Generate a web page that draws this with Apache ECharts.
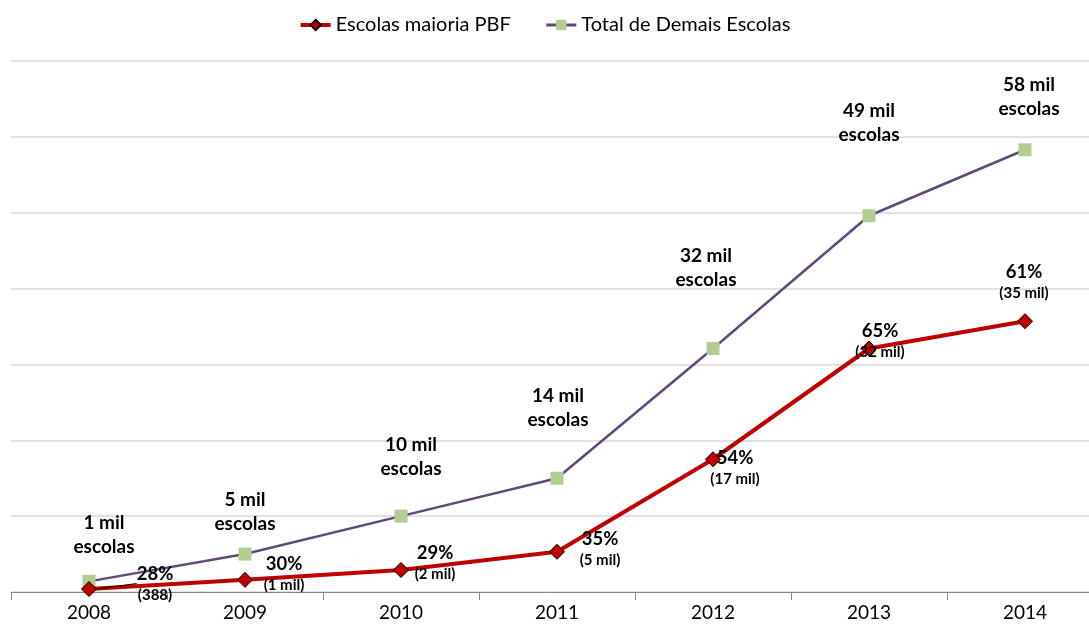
<!DOCTYPE html>
<html>
<head>
<meta charset="utf-8">
<script src="https://cdn.jsdelivr.net/npm/echarts@6/dist/echarts.min.js"></script>
<style>html,body{margin:0;padding:0;background:#fff}#c{width:1089px;height:626px}</style>
</head>
<body>
<div id="c"></div>
<script>
// ---- data (thousands of schools) ----
const years = ['2008', '2009', '2010', '2011', '2012', '2013', '2014'];
const pbfValues = [0.39, 1.6, 2.9, 5.3, 17.5, 32.1, 35.7];
const totalValues = [1.4, 5.0, 10.0, 15.0, 32.1, 49.6, 58.3];
const totalLabels = ['1 mil', '5 mil', '10 mil', '14 mil', '32 mil', '49 mil', '58 mil'];
const pbfPct = ['28%', '30%', '29%', '35%', '54%', '65%', '61%'];
const pbfCount = ['(388)', '(1 mil)', '(2 mil)', '(5 mil)', '(17 mil)', '(32 mil)', '(35 mil)'];

// ---- label layout (style, not data) ----
const totalLabelOffsets = [[15, -47], [0, -42], [10, -59], [1, -70], [-7, -81], [0, -93], [4, -53]];
const pbfLabelOffsets = [[66, -5], [39, -6], [34, -7], [43, -3], [22, 9], [11, -7], [-1, -39]];

const FONT = 'Lato';

const chart = echarts.init(document.getElementById('c'), null, { renderer: 'canvas' });

const pbfData = pbfValues.map((v, i) => {
  const item = {
    value: v,
    label: {
      offset: pbfLabelOffsets[i],
      formatter: '{a|' + pbfPct[i] + '}\n{b|' + pbfCount[i] + '}'
    }
  };
  if (i === 0) {
    item.labelLine = { show: true, lineStyle: { color: '#000', width: 1 } };
  }
  return item;
});

const totalData = totalValues.map((v, i) => ({
  value: v,
  label: {
    offset: totalLabelOffsets[i],
    formatter: totalLabels[i] + '\nescolas'
  }
}));

chart.setOption({
  animation: false,
  textStyle: { fontFamily: FONT },
  legend: {
    top: 10,
    left: 'center',
    itemWidth: 30,
    itemHeight: 13,
    itemGap: 34,
    textStyle: { fontFamily: FONT, fontSize: 20, color: '#000' },
    data: [
      { name: 'Escolas maioria PBF', lineStyle: { width: 4 } },
      { name: 'Total de Demais Escolas', lineStyle: { width: 3 } }
    ]
  },
  grid: { left: 11, width: 1092, top: 61, height: 531, containLabel: false, outerBoundsMode: 'none' },
  xAxis: {
    type: 'category',
    data: years,
    boundaryGap: true,
    axisLine: { lineStyle: { color: '#868686', width: 1 } },
    axisTick: { show: true, length: 8, lineStyle: { color: '#868686' } },
    axisLabel: { fontFamily: FONT, fontSize: 19, color: '#000', margin: 11 }
  },
  yAxis: {
    type: 'value',
    min: 0,
    max: 70,
    interval: 10,
    axisLabel: { show: false },
    axisLine: { show: false },
    axisTick: { show: false },
    splitLine: { lineStyle: { color: '#d9d9d9', width: 1.5 } }
  },
  series: [
    {
      name: 'Escolas maioria PBF',
      type: 'line',
      data: pbfData,
      smooth: false,
      z: 3,
      symbol: 'diamond',
      symbolSize: 15,
      lineStyle: { color: '#C00000', width: 4 },
      itemStyle: { color: '#C00000', borderColor: '#000', borderWidth: 1 },
      label: {
        show: true,
        position: 'inside',
        align: 'center',
        verticalAlign: 'middle',
        rich: {
          a: { fontFamily: FONT, fontSize: 18.5, fontWeight: 'bold', color: '#000', lineHeight: 22, align: 'center' },
          b: { fontFamily: FONT, fontSize: 15, fontWeight: 'bold', color: '#000', lineHeight: 20, align: 'center' }
        }
      }
    },
    {
      name: 'Total de Demais Escolas',
      type: 'line',
      data: totalData,
      smooth: false,
      z: 2,
      symbol: 'rect',
      symbolSize: 13,
      lineStyle: { color: '#604A7B', width: 2.5 },
      itemStyle: { color: '#B3CC94', borderWidth: 0 },
      label: {
        show: true,
        position: 'inside',
        align: 'center',
        verticalAlign: 'middle',
        fontFamily: FONT,
        fontSize: 19,
        fontWeight: 'bold',
        color: '#000',
        lineHeight: 24
      }
    }
  ]
});
</script>
</body>
</html>
